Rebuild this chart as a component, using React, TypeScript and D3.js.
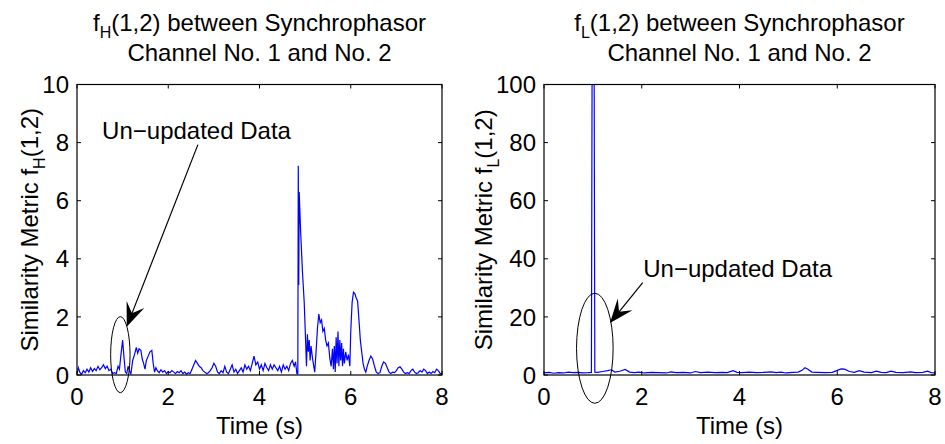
import React from 'react'
import * as d3 from 'd3'

// time ticks shared by both panels
const timeTicks = [0, 2, 4, 6, 8]
const ticksH = [0, 2, 4, 6, 8, 10]
const ticksL = [0, 20, 40, 60, 80, 100]

// f_H(1,2): [time (s), value]
const seriesH: [number, number][] = [
  [0.00, 0.05], [0.03, 0.25], [0.06, 0.10], [0.10, 0.02], [0.14, 0.15], [0.18, 0.08],
  [0.22, 0.20], [0.26, 0.10], [0.30, 0.25], [0.34, 0.12], [0.38, 0.22], [0.42, 0.15],
  [0.46, 0.30], [0.50, 0.18], [0.54, 0.25], [0.58, 0.35], [0.62, 0.22], [0.66, 0.30],
  [0.70, 0.15], [0.74, 0.20], [0.78, 0.05], [0.82, 0.08], [0.86, 0.05], [0.90, 0.30],
  [0.93, 0.20], [0.96, 0.65], [1.00, 1.20], [1.03, 0.60], [1.06, 0.10], [1.09, 0.05],
  [1.12, 0.30], [1.15, 0.15], [1.18, 0.02], [1.22, 0.50], [1.26, 0.70], [1.30, 0.95],
  [1.33, 0.75], [1.36, 0.90], [1.40, 0.85], [1.43, 0.55], [1.46, 0.40], [1.49, 0.20],
  [1.52, 0.50], [1.56, 0.65], [1.60, 0.80], [1.64, 0.85], [1.67, 0.40], [1.70, 0.10],
  [1.73, 0.25], [1.76, 0.15], [1.80, 0.08], [1.84, 0.18], [1.88, 0.10], [1.92, 0.15],
  [1.96, 0.05], [2.00, 0.12], [2.04, 0.08], [2.08, 0.15], [2.12, 0.10], [2.16, 0.05],
  [2.20, 0.12], [2.24, 0.08], [2.28, 0.15], [2.32, 0.05], [2.36, 0.10], [2.40, 0.03],
  [2.44, 0.08], [2.48, 0.05], [2.52, 0.20], [2.56, 0.35], [2.60, 0.50], [2.64, 0.40],
  [2.68, 0.30], [2.72, 0.25], [2.76, 0.15], [2.80, 0.10], [2.84, 0.05], [2.88, 0.08],
  [2.92, 0.15], [2.96, 0.25], [3.00, 0.40], [3.04, 0.30], [3.08, 0.10], [3.12, 0.05],
  [3.16, 0.15], [3.20, 0.08], [3.24, 0.30], [3.28, 0.10], [3.32, 0.05], [3.36, 0.20],
  [3.40, 0.35], [3.44, 0.10], [3.48, 0.20], [3.52, 0.05], [3.56, 0.15], [3.60, 0.25],
  [3.64, 0.10], [3.68, 0.35], [3.72, 0.20], [3.76, 0.30], [3.80, 0.15], [3.84, 0.40],
  [3.88, 0.65], [3.92, 0.35], [3.96, 0.45], [4.00, 0.20], [4.04, 0.35], [4.08, 0.15],
  [4.12, 0.40], [4.16, 0.25], [4.20, 0.15], [4.24, 0.35], [4.28, 0.20], [4.32, 0.35],
  [4.36, 0.25], [4.40, 0.15], [4.44, 0.30], [4.48, 0.10], [4.52, 0.35], [4.56, 0.20],
  [4.60, 0.30], [4.64, 0.15], [4.68, 0.40], [4.72, 0.50], [4.76, 0.30], [4.79, 0.45],
  [4.82, 0.05], [4.84, 0.05], [4.85, 7.20], [4.86, 3.10], [4.87, 6.30], [4.90, 5.00],
  [4.94, 3.60], [4.98, 2.50], [5.01, 1.20], [5.03, 0.30], [5.05, 1.40], [5.07, 0.80],
  [5.09, 1.20], [5.11, 0.50], [5.13, 1.00], [5.16, 0.60], [5.19, 0.30], [5.21, 0.10],
  [5.24, 0.80], [5.27, 1.60], [5.30, 2.10], [5.33, 1.80], [5.36, 1.90], [5.39, 1.50],
  [5.42, 1.60], [5.45, 1.20], [5.48, 1.00], [5.51, 1.10], [5.54, 0.60], [5.57, 0.30],
  [5.60, 0.90], [5.62, 0.20], [5.64, 1.00], [5.66, 0.10], [5.68, 1.30], [5.70, 0.40],
  [5.72, 1.50], [5.74, 0.30], [5.76, 1.20], [5.78, 0.50], [5.80, 1.10], [5.82, 0.30],
  [5.84, 0.90], [5.86, 0.40], [5.89, 0.80], [5.92, 0.50], [5.95, 0.70], [5.98, 0.30],
  [6.00, 1.50], [6.03, 2.50], [6.06, 2.85], [6.09, 2.80], [6.12, 2.65], [6.15, 2.55],
  [6.18, 1.90], [6.21, 1.20], [6.24, 0.80], [6.27, 0.40], [6.30, 0.20], [6.33, 0.10],
  [6.36, 0.30], [6.40, 0.50], [6.44, 0.65], [6.48, 0.55], [6.52, 0.30], [6.56, 0.10],
  [6.60, 0.05], [6.64, 0.08], [6.68, 0.30], [6.72, 0.45], [6.76, 0.40], [6.80, 0.25],
  [6.84, 0.10], [6.88, 0.05], [6.92, 0.10], [6.96, 0.08], [7.00, 0.15], [7.04, 0.25],
  [7.08, 0.28], [7.12, 0.20], [7.16, 0.10], [7.20, 0.05], [7.24, 0.08], [7.28, 0.05],
  [7.32, 0.15], [7.36, 0.20], [7.40, 0.10], [7.44, 0.05], [7.48, 0.08], [7.52, 0.15],
  [7.56, 0.10], [7.60, 0.20], [7.64, 0.15], [7.68, 0.05], [7.72, 0.10], [7.76, 0.05],
  [7.80, 0.12], [7.84, 0.08], [7.88, 0.20], [7.92, 0.15], [7.96, 0.05], [8.00, 0.05]
]

// f_L(1,2) (the spike at ~1 s runs off the top)
const seriesL: [number, number][] = [
  [0.00, 0.7], [0.10, 0.9], [0.20, 0.6], [0.30, 0.8], [0.40, 0.7], [0.50, 1.0],
  [0.60, 0.8], [0.70, 0.9], [0.80, 0.7], [0.90, 0.8], [0.97, 0.9], [0.99, 150],
  [1.02, 150], [1.04, 1.0], [1.10, 0.9], [1.20, 1.2], [1.30, 1.5], [1.38, 1.8],
  [1.45, 1.0], [1.55, 1.3], [1.66, 1.9], [1.75, 1.0], [1.85, 0.8], [1.95, 1.0],
  [2.05, 0.7], [2.20, 0.9], [2.35, 0.8], [2.50, 0.7], [2.60, 1.1], [2.70, 0.8],
  [2.85, 0.9], [3.00, 0.7], [3.10, 1.2], [3.20, 0.8], [3.35, 1.0], [3.50, 0.8],
  [3.65, 0.9], [3.75, 0.8], [3.87, 1.5], [3.95, 0.9], [4.05, 0.8], [4.20, 1.0],
  [4.35, 0.8], [4.50, 0.9], [4.65, 1.1], [4.75, 0.8], [4.85, 1.0], [4.95, 0.7],
  [5.10, 0.9], [5.20, 1.0], [5.28, 1.6], [5.34, 2.5], [5.40, 2.0], [5.48, 1.0],
  [5.60, 0.9], [5.75, 0.8], [5.90, 0.9], [6.00, 1.6], [6.08, 2.1], [6.15, 2.0],
  [6.25, 1.2], [6.35, 0.9], [6.45, 1.5], [6.55, 1.0], [6.70, 0.8], [6.80, 1.3],
  [6.90, 0.9], [7.00, 0.8], [7.10, 1.3], [7.20, 0.9], [7.35, 0.8], [7.50, 1.1],
  [7.60, 0.8], [7.75, 0.9], [7.85, 1.3], [7.92, 0.8], [8.00, 0.7]
]

const FONT = '"Liberation Sans", Arial, Helvetica, sans-serif'

type Note = {
  text: [number, number]
  from: [number, number]
  tip: [number, number]
  ellipse: [number, number]
  rx: number
  ry: number
}

type PanelProps = {
  id: string
  left: number
  right: number
  yMax: number
  yTicks: number[]
  data: [number, number][]
  sub: string
  ylabelX: number
  note: Note
}

function Panel({ id, left, right, yMax, yTicks, data, sub, ylabelX, note }: PanelProps) {
  const top = 84.5
  const bottom = 375
  const tick = 4

  const x = d3.scaleLinear().domain([0, 8]).range([left, right])
  const y = d3.scaleLinear().domain([0, yMax]).range([bottom, top])
  const line = d3.line<[number, number]>()
    .x(d => x(d[0]))
    .y(d => y(d[1]))

  const cx = (left + right) / 2
  const cy = (top + bottom) / 2

  // arrow head (filled, notched back like matlab's default annotation arrow)
  const tx = x(note.tip[0]), ty = y(note.tip[1])
  const fx = x(note.from[0]), fy = y(note.from[1])
  const len = Math.hypot(fx - tx, fy - ty)
  const ux = (fx - tx) / len, uy = (fy - ty) / len
  const hl = 24, hw = 9.5
  const head = [
    [tx, ty],
    [tx + ux * hl - uy * hw, ty + uy * hl + ux * hw],
    [tx + ux * hl * 0.6, ty + uy * hl * 0.6],
    [tx + ux * hl + uy * hw, ty + uy * hl - ux * hw]
  ]

  return (
    <g fontFamily={FONT} fontSize={24} fill="#000">
      <defs>
        <clipPath id={id}>
          <rect x={left} y={top} width={right - left} height={bottom - top} />
        </clipPath>
      </defs>

      <text x={cx} y={30.5} textAnchor="middle">
        f<tspan dy={7} fontSize={16}>{sub}</tspan><tspan dy={-7}>(1,2) between Synchrophasor</tspan>
      </text>
      <text x={cx} y={60.5} textAnchor="middle">Channel No. 1 and No. 2</text>

      <path d={line(data) || ''} fill="none" stroke="#0000ff" strokeWidth={1.2}
        clipPath={`url(#${id})`} />

      <rect x={left} y={top} width={right - left} height={bottom - top}
        fill="none" stroke="#000" strokeWidth={1.2} />

      {timeTicks.map(t => (
        <g key={'x' + t}>
          <line x1={x(t)} x2={x(t)} y1={bottom} y2={bottom - tick} stroke="#000" />
          <line x1={x(t)} x2={x(t)} y1={top} y2={top + tick} stroke="#000" />
          <text x={x(t)} y={405} textAnchor="middle">{t}</text>
        </g>
      ))}
      {yTicks.map(v => (
        <g key={'y' + v}>
          <line x1={left} x2={left + tick} y1={y(v)} y2={y(v)} stroke="#000" />
          <line x1={right} x2={right - tick} y1={y(v)} y2={y(v)} stroke="#000" />
          <text x={left - 8} y={y(v)} dy="0.36em" textAnchor="end">{v}</text>
        </g>
      ))}

      <text x={cx} y={434} textAnchor="middle">Time (s)</text>
      <text transform={`translate(${ylabelX},${cy}) rotate(-90)`} textAnchor="middle">
        Similarity Metric f<tspan dy={7} fontSize={16}>{sub}</tspan><tspan dy={-7}>(1,2)</tspan>
      </text>

      <ellipse cx={x(note.ellipse[0])} cy={y(note.ellipse[1])} rx={note.rx} ry={note.ry}
        fill="none" stroke="#000" strokeWidth={1} />
      <line x1={fx} y1={fy} x2={tx + ux * hl * 0.6} y2={ty + uy * hl * 0.6}
        stroke="#000" strokeWidth={1.2} />
      <polygon points={head.map(p => p.join(',')).join(' ')} fill="#000" />
      <text x={x(note.text[0])} y={y(note.text[1])}>Un{'\u2212'}updated Data</text>
    </g>
  )
}

export default function App() {
  return (
    <svg width={945} height={444} viewBox="0 0 945 444"
      style={{ position: 'absolute', left: 0, top: 0, background: '#fff' }}>
      <rect width={945} height={444} fill="#fff" />
      <Panel id="clipH" left={77} right={442} yMax={10} yTicks={ticksH} data={seriesH}
        sub="H" ylabelX={38}
        note={{ text: [0.55, 8.14], from: [2.65, 7.93], tip: [1.09, 1.66], ellipse: [0.95, 0.7], rx: 9.7, ry: 38 }} />
      <Panel id="clipL" left={544} right={935} yMax={100} yTicks={ticksL} data={seriesL}
        sub="L" ylabelX={492}
        note={{ text: [2.03, 33.8], from: [2.02, 31.8], tip: [1.35, 17.9], ellipse: [1.04, 9.2], rx: 18.3, ry: 55 }} />
    </svg>
  )
}
